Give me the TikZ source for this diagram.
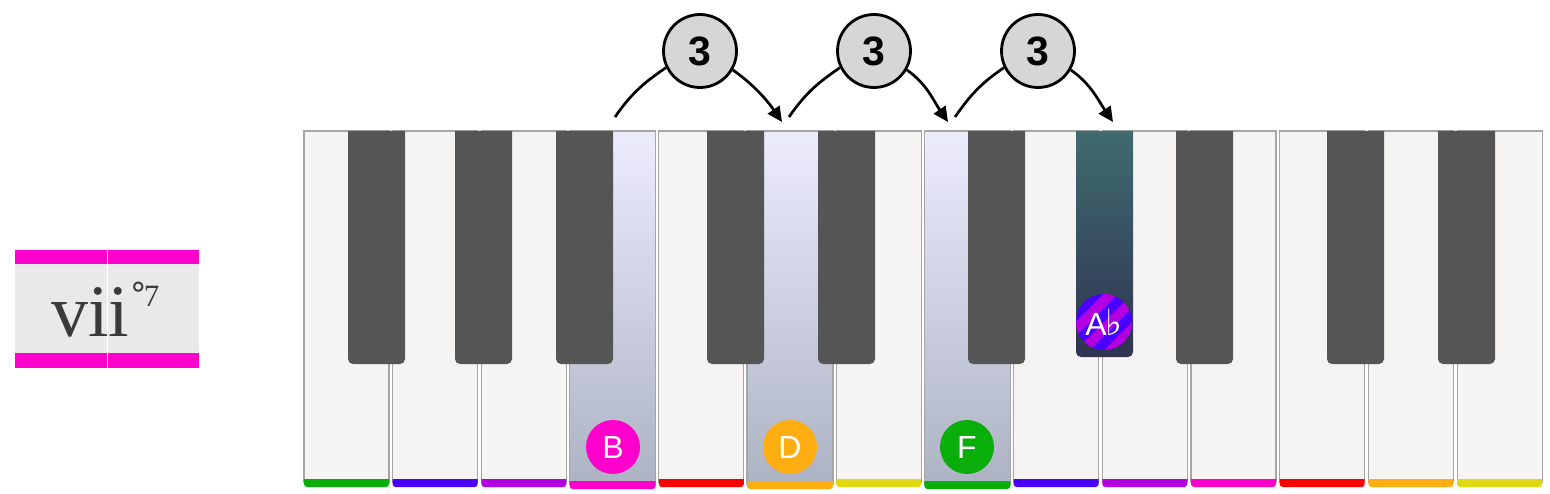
\documentclass[tikz,border=0pt]{standalone}
\usepackage{fontspec}
\setmainfont{Liberation Serif}
\newfontfamily\sansf{Liberation Sans}
\newfontfamily\dejavu{DejaVu Sans}
\usetikzlibrary{arrows.meta}
\definecolor{keywhite}{HTML}{F5F4F2}
\definecolor{keyborder}{HTML}{A6A6A6}
\definecolor{keyblack}{HTML}{555555}
\definecolor{hltop}{HTML}{ECECFD}
\definecolor{hlbot}{HTML}{ADB3C3}
\definecolor{abtop}{HTML}{3F6B6F}
\definecolor{abbot}{HTML}{2F3451}
\definecolor{cF}{HTML}{0AAE0A}
\definecolor{cG}{HTML}{4A00FF}
\definecolor{cA}{HTML}{B400E0}
\definecolor{cB}{HTML}{FF00CC}
\definecolor{cC}{HTML}{FF0000}
\definecolor{cD}{HTML}{FFAE12}
\definecolor{cE}{HTML}{E0D810}
\definecolor{circgrey}{HTML}{D6D6D6}
\definecolor{labelgrey}{HTML}{E9E9E9}
\definecolor{romangrey}{HTML}{3A3A3A}
\begin{document}
\begin{tikzpicture}[x=1pt,y=-1pt,
  interval/.style={circle, draw=black, line width=2.8pt, fill=circgrey, minimum size=73pt, inner sep=0pt,
    font=\sansf\bfseries\fontsize{41}{41}\selectfont},
  jump/.style={line width=2.7pt, draw=black},
  jumparrow/.style={jump, -{Triangle[length=15pt,width=14pt]}},
  note/.style={circle, minimum size=54pt, inner sep=0pt, text=white, font=\sansf\fontsize{32}{32}\selectfont},
  whitekey/.style={fill=keywhite, draw=keyborder, line width=1.2pt},
  hlkey/.style={top color=hltop, bottom color=hlbot, draw=keyborder, line width=1.2pt},
]
\fill[white] (0,0) rectangle (1550,494);
\useasboundingbox (0,0) rectangle (1550,494);

% chord label
\fill[labelgrey] (15,263) rectangle (199,353);
\fill[cB] (15,250) rectangle (199,264);
\fill[cB] (15,353) rectangle (199,368);
\draw[white, line width=1.5pt] (107.5,250) -- (107.5,368);
\node[anchor=base west, text=romangrey, inner sep=0pt] (chord) at (51,337)
  {\fontsize{74}{74}\selectfont vii\kern1pt\raisebox{30pt}{\dejavu\fontsize{33}{33}\selectfont °\kern-3pt\fontspec{Liberation Serif}\fontsize{31}{31}\selectfont 7}};

% white keys
\foreach \i/\c in {0/cF,1/cG,2/cA,3/cB,4/cC,5/cD,6/cE,7/cF,8/cG,9/cA,10/cB,11/cC,12/cD,13/cE} {
  \pgfmathsetmacro{\xa}{304+88.7*\i}
  \pgfmathsetmacro{\xb}{\xa+85}
  \path[whitekey] (\xa,131) rectangle (\xb,482);
  \fill[\c] (\xa,479) [rounded corners=3pt] -- (\xa,487) -- (\xb,487) [sharp corners] -- (\xb,479) -- cycle;
}
% highlighted white keys
\foreach \i/\c in {3/cB,5/cD,7/cF} {
  \pgfmathsetmacro{\xa}{304+88.7*\i-0.5}
  \pgfmathsetmacro{\xb}{\xa+86}
  \path[hlkey] (\xa,131) rectangle (\xb,484);
  \fill[\c] (\xa,481) [rounded corners=3pt] -- (\xa,489) -- (\xb,489) [sharp corners] -- (\xb,481) -- cycle;
}
% black keys
\foreach \x in {348,455,556,707,818,968,1176,1327,1438} {
  \fill[keyblack] (\x,131) [rounded corners=5pt] -- (\x,364) -- (\x+57,364) [sharp corners] -- (\x+57,131) -- cycle;
}
\path[top color=abtop, bottom color=abbot] (1076,131) [rounded corners=5pt] -- (1076,357) -- (1133,357) [sharp corners] -- (1133,131) -- cycle;

% note names
\node[note, fill=cB] (nB) at (613,447) {B};
\node[note, fill=cD] (nD) at (790,447) {D};
\node[note, fill=cF] (nF) at (967,447) {F};
\node[note, fill=cG, minimum size=56pt, path picture={
    \foreach \k in {-4,...,3} {
      \fill[cA] (path picture bounding box.center)
        ++({-35.36+14.142*\k},{35.36+14.142*\k}) -- ++(70.71,-70.71) -- ++(7.071,7.071) -- ++(-70.71,70.71) -- cycle;
    }}] (nAb) at (1104,322) {A\kern-1pt{\dejavu\fontsize{36}{36}\selectfont ♭}};

% interval circles and arrows
\node[interval] (c1) at (700,51) {3};
\node[interval] (c2) at (874,51) {3};
\node[interval] (c3) at (1038,51) {3};
\coordinate (s1) at (615,117); \coordinate (e1) at (782,122);
\coordinate (s2) at (789,117); \coordinate (e2) at (948,122);
\coordinate (s3) at (955,117); \coordinate (e3) at (1113,122);
\foreach \n in {1,2,3} {
  \draw[jump] (s\n) .. controls +(18,-26) and +(-20,14) .. (c\n.206);
  \draw[jumparrow] (c\n.330) .. controls +(20,14) and +(-15,-22) .. (e\n);
}
\end{tikzpicture}
\end{document}
